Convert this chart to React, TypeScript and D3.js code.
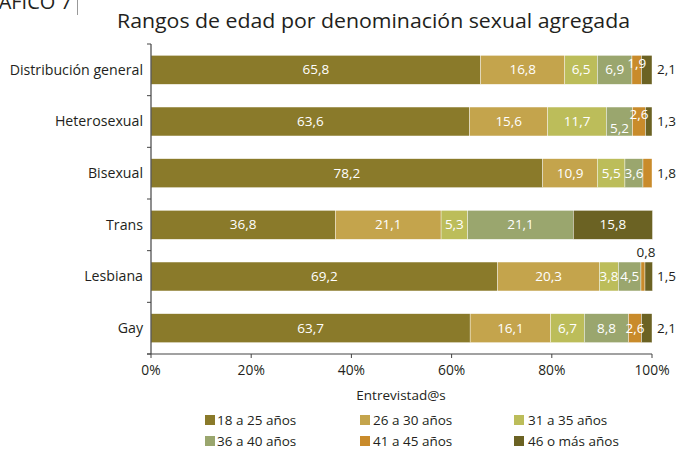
import React from "react";
import * as d3 from "d3";

const categories = ["Distribución general", "Heterosexual", "Bisexual", "Trans", "Lesbiana", "Gay"];
const seriesNames = ["18 a 25 años", "26 a 30 años", "31 a 35 años", "36 a 40 años", "41 a 45 años", "46 o más años"];
const s18_25 = [65.8, 63.6, 78.2, 36.8, 69.2, 63.7];
const s26_30 = [16.8, 15.6, 10.9, 21.1, 20.3, 16.1];
const s31_35 = [6.5, 11.7, 5.5, 5.3, 3.8, 6.7];
const s36_40 = [6.9, 5.2, 3.6, 21.1, 4.5, 8.8];
const s41_45 = [1.9, 2.6, 1.8, 0, 0.8, 2.6];
const s46 = [2.1, 1.3, 0, 15.8, 1.5, 2.1];
const xTicks = [0, 20, 40, 60, 80, 100];
const colors = ["#8a7a2a", "#c4a44c", "#bcbd5a", "#9aa66e", "#c98b2b", "#6b6223"];

const series = [s18_25, s26_30, s31_35, s36_40, s41_45, s46];

type Place = { mode: "in" | "out" | "above"; dy: number };
function placement(ci: number, si: number): Place {
  const key = `${ci}-${si}`;
  const special: Record<string, Place> = {
    "0-4": { mode: "in", dy: -6 },
    "0-5": { mode: "out", dy: 0 },
    "1-3": { mode: "in", dy: 7 },
    "1-4": { mode: "in", dy: -7 },
    "1-5": { mode: "out", dy: 0 },
    "2-4": { mode: "out", dy: 0 },
    "4-4": { mode: "above", dy: 0 },
    "4-5": { mode: "out", dy: 0 },
    "5-5": { mode: "out", dy: 0 },
  };
  return special[key] || { mode: "in", dy: 0 };
}

const fmt = (v: number) => v.toFixed(1).replace(".", ",");

export default function App() {
  const W = 679, H = 449;
  const x = d3.scaleLinear().domain([0, 100]).range([151, 652]);
  const y = d3.scaleBand<string>().domain(categories).range([44, 354]).paddingInner(0.44).paddingOuter(0.22);
  const font = "'Open Sans', sans-serif";
  const stack = categories.map((c, ci) => {
    let acc = 0;
    return series.map((s, si) => {
      const v = s[ci];
      const x0 = acc;
      acc += v;
      return { c, ci, si, v, x0, x1: acc };
    });
  });
  const step = y.step();
  const boundaries = d3.range(categories.length + 1).map((i) => 44 + i * step);

  return (
    <div style={{ position: "fixed", left: 0, top: 0 }}>
      <svg width={W} height={H} style={{ display: "block", background: "#fff" }} fontFamily={font}>
        <text x={72} y={9} textAnchor="end" fontSize={20} fill="#231f20">GRÁFICO 7</text>
        <line x1={77.5} x2={77.5} y1={0} y2={15} stroke="#999" strokeWidth={1} />
        <text x={117} y={28} fontSize={20} fill="#231f20" textLength={513} lengthAdjust="spacingAndGlyphs">
          Rangos de edad por denominación sexual agregada
        </text>
        {stack.map((row) =>
          row.map((d) =>
            d.v > 0 ? (
              <rect key={`r${d.ci}-${d.si}`} x={x(d.x0)} y={y(d.c)!} width={x(d.x1) - x(d.x0)} height={y.bandwidth()}
                fill={colors[d.si]} stroke="#fff" strokeWidth={0.4} />
            ) : null
          )
        )}
        {stack.map((row) =>
          row.map((d) => {
            if (d.v <= 0) return null;
            const p = placement(d.ci, d.si);
            const cy = y(d.c)! + y.bandwidth() / 2;
            if (p.mode === "out") {
              return (
                <text key={`t${d.ci}-${d.si}`} x={x(100) + 5} y={cy + 1} dominantBaseline="middle" fontSize={13.5} fill="#231f20">
                  {fmt(d.v)}
                </text>
              );
            }
            if (p.mode === "above") {
              return (
                <text key={`t${d.ci}-${d.si}`} x={(x(d.x0) + x(d.x1)) / 2 + 3} y={y(d.c)! - 9} textAnchor="middle" dominantBaseline="middle" fontSize={13.5} fill="#231f20">
                  {fmt(d.v)}
                </text>
              );
            }
            return (
              <text key={`t${d.ci}-${d.si}`} x={(x(d.x0) + x(d.x1)) / 2} y={cy + 1 + p.dy} textAnchor="middle" dominantBaseline="middle" fontSize={13.5} fill="#fff">
                {fmt(d.v)}
              </text>
            );
          })
        )}
        <line x1={x(0)} x2={x(0)} y1={44} y2={354} stroke="#444" strokeWidth={1.2} />
        {boundaries.map((b, i) => (
          <line key={`yt${i}`} x1={x(0) - 4} x2={x(0)} y1={b} y2={b} stroke="#444" strokeWidth={1} />
        ))}
        {categories.map((c) => (
          <text key={`yl${c}`} x={143} y={y(c)! + y.bandwidth() / 2 + 1} textAnchor="end" dominantBaseline="middle" fontSize={14.2} fill="#231f20">
            {c}
          </text>
        ))}
        <line x1={x(0) - 4} x2={x(100)} y1={354} y2={354} stroke="#444" strokeWidth={1.2} />
        {xTicks.map((t) => (
          <g key={`xt${t}`}>
            <line x1={x(t)} x2={x(t)} y1={354} y2={358} stroke="#444" strokeWidth={1} />
            <text x={x(t)} y={371} textAnchor="middle" dominantBaseline="middle" fontSize={13.8} fill="#231f20">
              {t}%
            </text>
          </g>
        ))}
        <text x={401} y={396} textAnchor="middle" dominantBaseline="middle" fontSize={13.5} fill="#231f20">
          Entrevistad@s
        </text>
        {seriesNames.map((n, i) => {
          const col = i % 3;
          const rowi = Math.floor(i / 3);
          const sx = [205, 360, 514][col];
          const tx = [217, 373, 528][col];
          const cy = [420, 441][rowi];
          return (
            <g key={`lg${i}`}>
              <rect x={sx} y={cy - 5} width={10} height={10} fill={colors[i]} />
              <text x={tx} y={cy + 1} dominantBaseline="middle" fontSize={13.5} fill="#231f20">
                {n}
              </text>
            </g>
          );
        })}
      </svg>
    </div>
  );
}
